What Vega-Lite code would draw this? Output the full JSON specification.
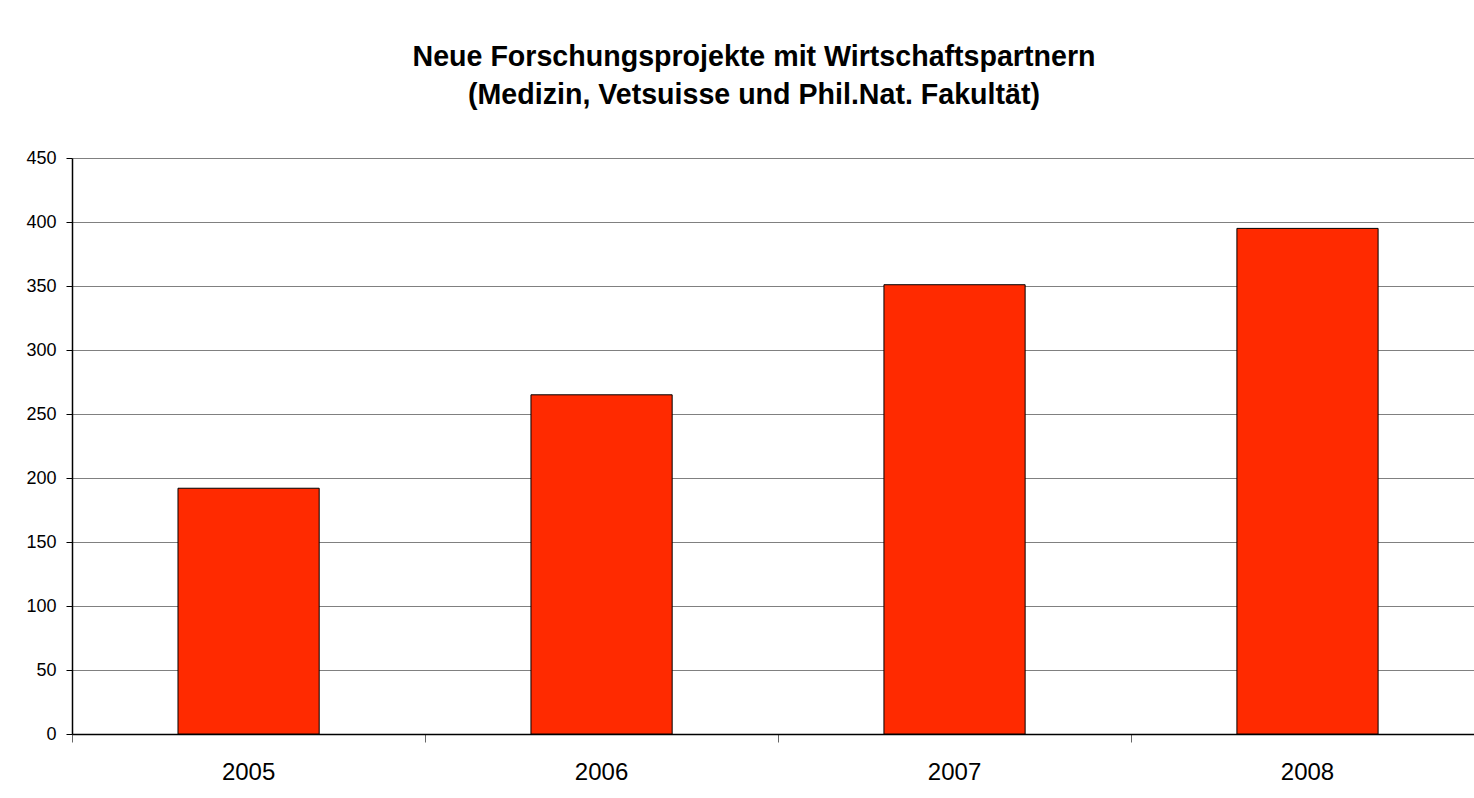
{
  "$schema": "https://vega.github.io/schema/vega-lite/v6.json",
  "width": 1402,
  "height": 576,
  "autosize": {"type": "none"},
  "padding": {"left": 72, "top": 158, "right": 0, "bottom": 64},
  "background": "white",
  "title": {
    "text": ["Neue Forschungsprojekte mit Wirtschaftspartnern", "(Medizin, Vetsuisse und Phil.Nat. Fakultät)"],
    "font": "Liberation Sans",
    "fontSize": 28.6,
    "fontWeight": "bold",
    "color": "black",
    "lineHeight": 38,
    "anchor": "middle",
    "frame": "group",
    "dx": -19,
    "offset": 39
  },
  "data": {
    "values": [
      {"Jahr": "2005", "Projekte": 192},
      {"Jahr": "2006", "Projekte": 265},
      {"Jahr": "2007", "Projekte": 351},
      {"Jahr": "2008", "Projekte": 395}
    ]
  },
  "mark": {"type": "bar", "fill": "#ff2a00", "stroke": "black", "strokeWidth": 1},
  "encoding": {
    "x": {
      "field": "Jahr",
      "type": "ordinal",
      "scale": {"paddingInner": 0.6, "paddingOuter": 0.286, "align": 0.525},
      "axis": {
        "title": null,
        "labelAngle": 0,
        "labelFont": "Liberation Sans",
        "labelFontSize": 24,
        "labelColor": "black",
        "labelPadding": 18,
        "bandPosition": -0.75,
        "tickSize": 8,
        "tickColor": "#666666",
        "domainColor": "black",
        "domainWidth": 1.5,
        "grid": false
      }
    },
    "y": {
      "field": "Projekte",
      "type": "quantitative",
      "scale": {"domain": [0, 450], "nice": false},
      "axis": {
        "title": null,
        "values": [0, 50, 100, 150, 200, 250, 300, 350, 400, 450],
        "labelFont": "Liberation Sans",
        "labelFontSize": 18,
        "labelColor": "black",
        "labelPadding": 10,
        "tickSize": 6,
        "tickColor": "black",
        "domainColor": "black",
        "domainWidth": 1.5,
        "grid": true,
        "gridColor": "#808080",
        "gridWidth": 1.2
      }
    }
  },
  "config": {"view": {"stroke": null}}
}
